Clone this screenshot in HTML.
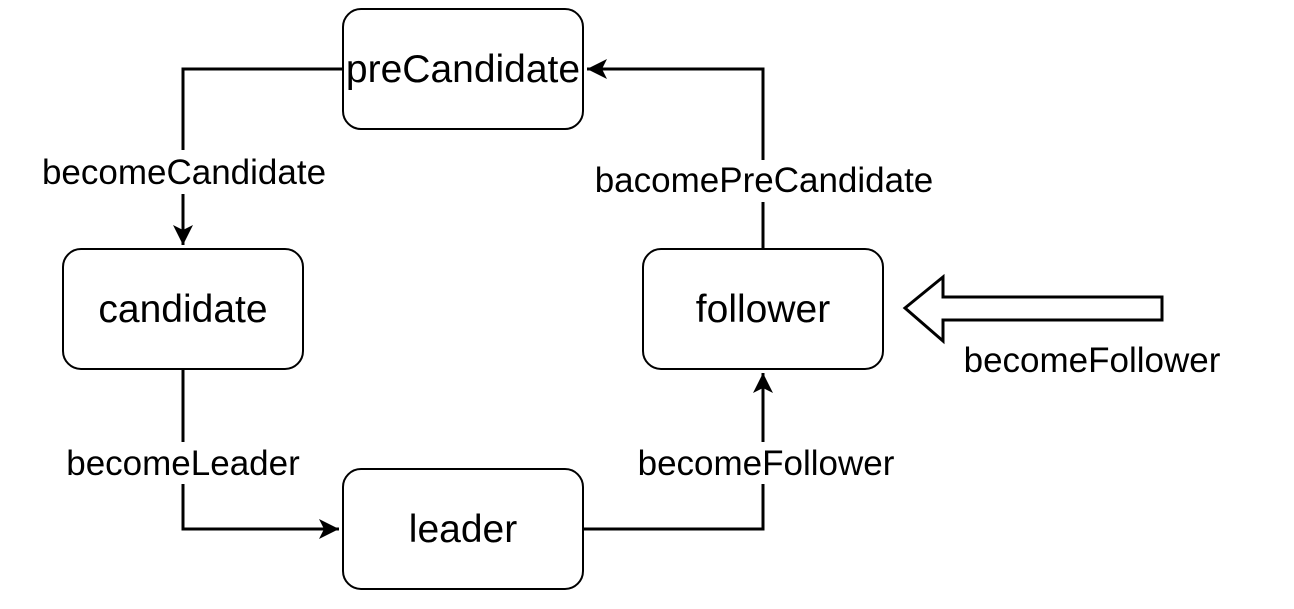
<!DOCTYPE html>
<html><head><style>body{margin:0;background:#fff}</style></head><body>
<svg width="1294" height="604" xmlns="http://www.w3.org/2000/svg" font-family="Liberation Sans, Helvetica, sans-serif">
<defs><marker id="b" markerWidth="22" markerHeight="20" refX="20" refY="10" orient="auto" markerUnits="userSpaceOnUse"><path d="M0,0 L20,10 L0,20 L5,10 Z" fill="#000"/></marker></defs>
<g fill="none" stroke="#000" stroke-width="3">
<path d="M343,69 H183 V245" marker-end="url(#b)"/>
<path d="M763,249 V69 H587" marker-end="url(#b)"/>
<path d="M183,369 V529 H339" marker-end="url(#b)"/>
<path d="M583,529 H763 V373" marker-end="url(#b)"/>
</g>
<g fill="#fff" stroke="#000" stroke-width="2">
<rect x="343" y="9" width="240" height="120" rx="18"/>
<rect x="63" y="249" width="240" height="120" rx="18"/>
<rect x="643" y="249" width="240" height="120" rx="18"/>
<rect x="343" y="469" width="240" height="120" rx="18"/>
<path d="M905,308 L943,277 L943,297 L1162,297 L1162,320 L943,320 L943,341 Z" stroke-width="3"/>
</g>
<g font-size="39" text-anchor="middle" fill="#000">
<text x="463" y="82">preCandidate</text>
<text x="183" y="322">candidate</text>
<text x="763" y="322">follower</text>
<text x="463" y="542">leader</text>
</g>
<g font-size="35" text-anchor="middle" fill="#000">
<rect x="36" y="150" width="296" height="44" fill="#fff"/>
<text x="184" y="184">becomeCandidate</text>
<rect x="588" y="160" width="352" height="42" fill="#fff"/>
<text x="764" y="192">bacomePreCandidate</text>
<rect x="60" y="442" width="246" height="42" fill="#fff"/>
<text x="183" y="475">becomeLeader</text>
<rect x="632" y="442" width="268" height="42" fill="#fff"/>
<text x="766" y="475">becomeFollower</text>
<text x="1092" y="372">becomeFollower</text>
</g>
</svg>
</body></html>
